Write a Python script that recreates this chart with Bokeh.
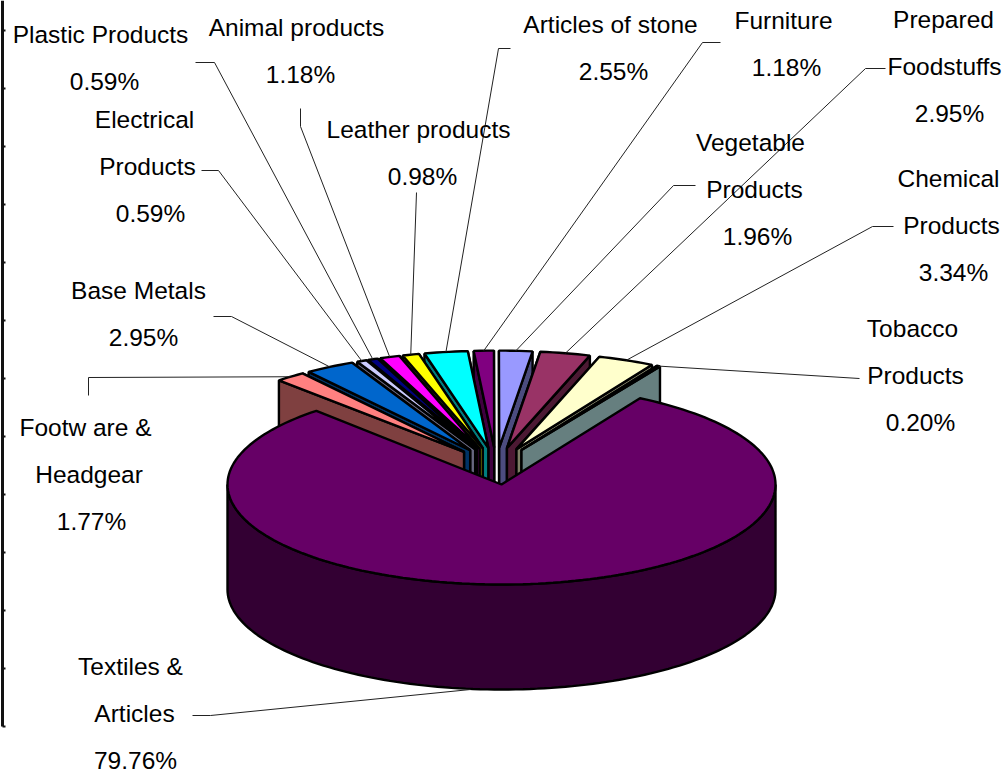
import math
from bokeh.plotting import figure
from bokeh.models import Range1d
from bokeh.core.properties import value
from bokeh.embed import file_html
from bokeh.resources import INLINE

# --- data (clockwise from the left edge of the fan) ---
categories = ["Footware & Headgear", "Base Metals", "Electrical Products", "Plastic Products",
              "Animal products", "Leather products", "Articles of stone", "Furniture",
              "Vegetable Products", "Prepared Foodstuffs", "Chemical Products", "Tobacco Products"]
shares = [1.77, 2.95, 0.59, 0.59, 1.18, 0.98, 2.55, 1.18, 1.96, 2.95, 3.34, 0.20]
colours = ["#FF8080", "#0066CC", "#CCCCFF", "#000080", "#FF00FF", "#FFFF00", "#00FFFF",
           "#800080", "#9999FF", "#993366", "#FFFFCC", "#CCFFFF"]
main_name = "Textiles & Articles"
main_share = 79.76
main_colour = "#660066"
pct = ["1.77%", "2.95%", "0.59%", "0.59%", "1.18%", "0.98%", "2.55%", "1.18%", "1.96%", "2.95%", "3.34%", "0.20%"]
axis_ticks = [30, 88, 146, 204, 262, 320, 378, 436, 494, 552, 610, 668, 726]

# label lines (text), centre x of each line, first line y
label_lines = [["Footw are &", "Headgear"], ["Base Metals"], ["Electrical", "Products"],
               ["Plastic Products"], ["Animal products"], ["Leather products"],
               ["Articles of stone"], ["Furniture"], ["Vegetable", "Products"],
               ["Prepared", "Foodstuffs"], ["Chemical", "Products"], ["Tobacco", "Products"]]
label_cx = [[85, 88.5], [138], [144, 147], [100], [296], [418], [610], [783], [750, 754],
            [943, 944], [948, 951], [912, 915]]
pct_cx = [91, 143, 150, 104, 300, 422, 613, 786, 757, 949, 953, 920]
label_y = [427, 290, 119, 34, 27, 129, 24, 20, 142, 19, 178, 328]
leader_from = [[(88, 395), (88, 377)], [(213, 316), (231, 316)], [(201, 170), (218, 170)],
               [(195, 62), (214, 62)], [(300, 108), (300, 126)], [(416, 192)],
               [(510, 48), (498, 48)], [(720, 42), (702, 42)], [(695, 185), (673, 185)],
               [(885, 68), (865, 68)], [(893, 226), (872, 226)], [(859, 378)]]

# --- layout ---
W, H = 1008, 774
RX, RY, FAN_RY, DEPTH = 274, 100, 97, 105
MAIN_CX, MAIN_CY = 501, 484
EXPLODE = 0.185
START = -42.5
FS = "24.5px"
LH = 47

def dark(c):
    r, g, b = (int(c[i:i + 2], 16) // 2 for i in (1, 3, 5))
    return f"#{r:02x}{g:02x}{b:02x}"

p = figure(width=W, height=H, output_backend="svg", toolbar_location=None,
           x_range=Range1d(0, W), y_range=Range1d(H, 0),
           min_border_left=0, min_border_right=0, min_border_top=0, min_border_bottom=0,
           x_axis_location=None, y_axis_location=None)
p.outline_line_color = None
p.grid.visible = False

# left axis stub
p.segment([2], [0], [2], [axis_ticks[-1]], line_color="#111111", line_width=3)
p.segment([2] * len(axis_ticks), axis_ticks, [5] * len(axis_ticks), axis_ticks,
          line_color="#111111", line_width=2)

def pt(cx, cy, a, r=1.0, ry=RY):
    t = math.radians(a)
    return cx + r * RX * math.sin(t), cy - r * ry * math.cos(t)

main_start = START + sum(shares) * 3.6
main_mid = main_start + main_share * 1.8
main_end = main_start + main_share * 3.6
base_x = MAIN_CX - EXPLODE * RX * math.sin(math.radians(main_mid))
base_y = MAIN_CY + EXPLODE * RY * math.cos(math.radians(main_mid))

slices = []
a = START
for i, s in enumerate(shares):
    a0, a1 = a, a + s * 3.6
    a = a1
    mid = (a0 + a1) / 2
    cx, cy = pt(base_x, base_y, mid, EXPLODE)
    slices.append((abs(mid), i, a0, a1, mid, cx, cy))

LW = 2.4
for _, i, a0, a1, mid, cx, cy in sorted(slices):
    # the edge nearer 12 o'clock lies behind the other one
    for e in sorted((a0, a1), key=abs):
        x, y = pt(cx, cy, e, ry=FAN_RY)
        p.patch([cx, x, x, cx], [cy, y, y + DEPTH, cy + DEPTH], fill_color=dark(colours[i]),
                line_color="black", line_width=LW)
    n = max(3, int((a1 - a0) / 1.2))
    arc = [pt(cx, cy, a0 + (a1 - a0) * k / n, ry=FAN_RY) for k in range(n + 1)]
    p.patch([cx] + [q[0] for q in arc], [cy] + [q[1] for q in arc], fill_color=colours[i],
            line_color="black", line_width=LW)

n = 120
front = [pt(MAIN_CX, MAIN_CY, 90 + 180 * k / n) for k in range(n + 1)]
p.patch([q[0] for q in front] + [q[0] for q in reversed(front)],
        [q[1] for q in front] + [q[1] + DEPTH for q in reversed(front)],
        fill_color=dark(main_colour), line_color="black", line_width=LW)
n = 180
arc = [pt(MAIN_CX, MAIN_CY, main_start + (main_end - main_start) * k / n) for k in range(n + 1)]
p.patch([MAIN_CX] + [q[0] for q in arc], [MAIN_CY] + [q[1] for q in arc], fill_color=main_colour,
        line_color="black", line_width=LW)

LEAD = "#222222"
for _, i, a0, a1, mid, cx, cy in slices:
    ex, ey = pt(cx, cy, mid, ry=FAN_RY)
    pts = leader_from[i] + [(ex, ey)]
    p.line([q[0] for q in pts], [q[1] for q in pts], line_color=LEAD, line_width=1)
p.line([192, 210, 470], [715, 715, 689], line_color=LEAD, line_width=1)

font = value("Liberation Sans")
def label(lines, cxs, y0):
    for j, (t, cx) in enumerate(zip(lines, cxs)):
        p.text([cx], [y0 + j * LH], text=[t], text_font=font, text_font_size=FS, text_color="black",
               text_align="center", text_baseline="middle")

for i in range(len(shares)):
    label(label_lines[i] + [pct[i]], label_cx[i] + [pct_cx[i]], label_y[i])
label(["Textiles &", "Articles", f"{main_share:.2f}%"], [130, 134, 135], 666)

open("out.html", "w").write(file_html(p, INLINE))
